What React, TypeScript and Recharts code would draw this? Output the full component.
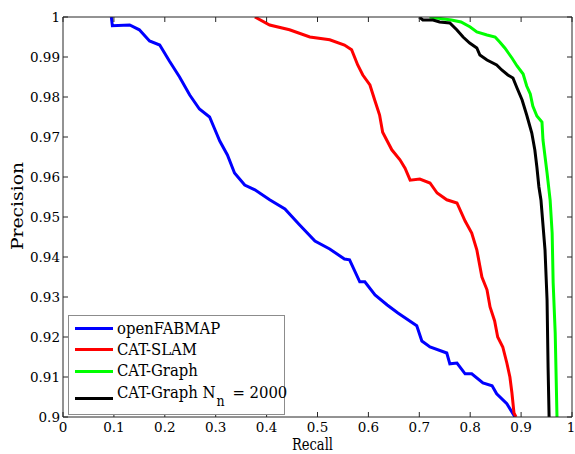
import React from 'react';
import { LineChart, Line, XAxis, YAxis, Legend } from 'recharts';

const openFabmap = [
  { x: 0.095, y: 1.0 }, { x: 0.097, y: 0.9978 }, { x: 0.131, y: 0.998 }, { x: 0.15, y: 0.9968 },
  { x: 0.17, y: 0.994 }, { x: 0.19, y: 0.993 }, { x: 0.209, y: 0.989 }, { x: 0.229, y: 0.985 },
  { x: 0.249, y: 0.9805 }, { x: 0.268, y: 0.977 }, { x: 0.288, y: 0.975 }, { x: 0.298, y: 0.972 },
  { x: 0.308, y: 0.969 }, { x: 0.323, y: 0.9655 }, { x: 0.337, y: 0.961 }, { x: 0.357, y: 0.958 },
  { x: 0.377, y: 0.9568 }, { x: 0.406, y: 0.9543 }, { x: 0.436, y: 0.952 }, { x: 0.465, y: 0.948 },
  { x: 0.495, y: 0.944 }, { x: 0.524, y: 0.942 }, { x: 0.553, y: 0.9395 }, { x: 0.563, y: 0.9393 },
  { x: 0.583, y: 0.9338 }, { x: 0.593, y: 0.9338 }, { x: 0.613, y: 0.9305 }, { x: 0.637, y: 0.928 },
  { x: 0.658, y: 0.926 }, { x: 0.695, y: 0.9228 }, { x: 0.705, y: 0.919 }, { x: 0.721, y: 0.9175 },
  { x: 0.754, y: 0.916 }, { x: 0.76, y: 0.9133 }, { x: 0.774, y: 0.9135 }, { x: 0.79, y: 0.9108 },
  { x: 0.803, y: 0.9108 }, { x: 0.825, y: 0.9085 }, { x: 0.843, y: 0.9078 }, { x: 0.852, y: 0.9058 },
  { x: 0.872, y: 0.9033 }, { x: 0.884, y: 0.9008 }, { x: 0.888, y: 0.9 },
];

const catSlam = [
  { x: 0.377, y: 1.0 }, { x: 0.406, y: 0.998 }, { x: 0.445, y: 0.9968 }, { x: 0.485, y: 0.995 },
  { x: 0.524, y: 0.9943 }, { x: 0.553, y: 0.993 }, { x: 0.567, y: 0.9918 }, { x: 0.579, y: 0.988 },
  { x: 0.589, y: 0.9855 }, { x: 0.603, y: 0.983 }, { x: 0.613, y: 0.979 }, { x: 0.622, y: 0.9755 },
  { x: 0.628, y: 0.9712 }, { x: 0.646, y: 0.9668 }, { x: 0.662, y: 0.9643 }, { x: 0.672, y: 0.9622 },
  { x: 0.682, y: 0.9592 }, { x: 0.701, y: 0.9595 }, { x: 0.721, y: 0.9585 }, { x: 0.735, y: 0.956 },
  { x: 0.754, y: 0.9543 }, { x: 0.774, y: 0.9535 }, { x: 0.79, y: 0.949 }, { x: 0.803, y: 0.946 },
  { x: 0.813, y: 0.9418 }, { x: 0.823, y: 0.935 }, { x: 0.833, y: 0.9318 }, { x: 0.839, y: 0.9275 },
  { x: 0.848, y: 0.924 }, { x: 0.854, y: 0.92 }, { x: 0.864, y: 0.9175 }, { x: 0.872, y: 0.9135 },
  { x: 0.878, y: 0.91 }, { x: 0.882, y: 0.906 }, { x: 0.886, y: 0.901 }, { x: 0.89, y: 0.9 },
];

const catGraph = [
  { x: 0.72, y: 1.0 }, { x: 0.763, y: 0.99925 }, { x: 0.782, y: 0.99875 }, { x: 0.8, y: 0.9975 },
  { x: 0.813, y: 0.99625 }, { x: 0.833, y: 0.9955 }, { x: 0.849, y: 0.995 }, { x: 0.858, y: 0.99375 },
  { x: 0.868, y: 0.99225 }, { x: 0.882, y: 0.98975 }, { x: 0.892, y: 0.98775 }, { x: 0.904, y: 0.98575 },
  { x: 0.911, y: 0.98275 }, { x: 0.918, y: 0.98075 }, { x: 0.923, y: 0.97775 }, { x: 0.931, y: 0.97525 },
  { x: 0.941, y: 0.97375 }, { x: 0.943, y: 0.96925 }, { x: 0.951, y: 0.961 }, { x: 0.957, y: 0.95425 },
  { x: 0.961, y: 0.946 }, { x: 0.963, y: 0.9335 }, { x: 0.967, y: 0.921 }, { x: 0.9705, y: 0.9 },
];

const catGraphN2000 = [
  { x: 0.7, y: 1.0 }, { x: 0.707, y: 0.99925 }, { x: 0.727, y: 0.99925 }, { x: 0.74, y: 0.99875 },
  { x: 0.76, y: 0.9985 }, { x: 0.774, y: 0.99675 }, { x: 0.786, y: 0.995 }, { x: 0.799, y: 0.9935 },
  { x: 0.813, y: 0.99225 }, { x: 0.819, y: 0.9905 }, { x: 0.833, y: 0.98925 }, { x: 0.852, y: 0.988 },
  { x: 0.862, y: 0.98675 }, { x: 0.874, y: 0.9855 }, { x: 0.884, y: 0.98475 }, { x: 0.892, y: 0.98225 },
  { x: 0.902, y: 0.97925 }, { x: 0.911, y: 0.9755 }, { x: 0.921, y: 0.971 }, { x: 0.927, y: 0.96675 },
  { x: 0.931, y: 0.9625 }, { x: 0.935, y: 0.9575 }, { x: 0.939, y: 0.95425 }, { x: 0.947, y: 0.9417 },
  { x: 0.951, y: 0.92925 }, { x: 0.953, y: 0.9125 }, { x: 0.955, y: 0.9 },
];

const xTicks = [0, 0.1, 0.2, 0.3, 0.4, 0.5, 0.6, 0.7, 0.8, 0.9, 1];
const yTicks = [0.9, 0.91, 0.92, 0.93, 0.94, 0.95, 0.96, 0.97, 0.98, 0.99, 1];

const series = [
  { name: 'openFABMAP', color: '#0000ff', data: openFabmap },
  { name: 'CAT-SLAM', color: '#ff0000', data: catSlam },
  { name: 'CAT-Graph', color: '#00ff00', data: catGraph },
  { name: 'CAT-Graph N_n = 2000', color: '#000000', data: catGraphN2000 },
];

const LEGEND_FONT = "'DejaVu Serif Condensed', 'DejaVu Serif', serif";
const SVG_FONT = 'DejaVu Serif';
const AXIS = '#262626';

const fmt = (v: number) => String(Number(v.toFixed(2)));

const renderLegend = () => (
  <div
    style={{
      width: 215,
      height: 96,
      border: '1px solid #8c8c8c',
      background: '#fff',
      fontFamily: LEGEND_FONT,
      fontStretch: 'condensed',
      fontSize: 16.5,
      color: '#000',
      paddingTop: 2,
      boxSizing: 'content-box',
    }}
  >
    {series.map((s) => {
      const parts = s.name.split('N_n');
      const sub = parts.length > 1;
      return (
        <div key={s.name} style={{ display: 'flex', alignItems: 'center', height: 21.3, lineHeight: '16px' }}>
          <div style={{ width: 38, height: 3, background: s.color, marginLeft: 6, marginRight: 4, marginTop: sub ? 11 : 0, flex: 'none' }} />
          <span style={{ whiteSpace: 'nowrap' }}>
            {sub ? (
              <>
                {parts[0]}N
                <span style={{ fontSize: 14, position: 'relative', top: 8, margin: '0 3px 0 1px' }}>n</span>
                {parts[1]}
              </>
            ) : (
              s.name
            )}
          </span>
        </div>
      );
    })}
  </div>
);

const RecallLabel = (p: any) => {
  const vb = p.viewBox || {};
  return (
    <text
      x={vb.x + vb.width / 2 - 5}
      y={vb.y + vb.height - 4}
      textAnchor="middle"
      fill="#000"
      fontFamily={SVG_FONT}
      fontSize={16}
      textLength={41}
      lengthAdjust="spacingAndGlyphs"
    >
      Recall
    </text>
  );
};

const PrecisionLabel = (p: any) => {
  const vb = p.viewBox || {};
  const cx = vb.x + 23;
  const cy = vb.y + vb.height / 2 - 11;
  return (
    <text
      x={cx}
      y={cy}
      transform={`rotate(-90, ${cx}, ${cy})`}
      textAnchor="middle"
      fill="#000"
      fontFamily={SVG_FONT}
      fontSize={17}
      textLength={88}
      lengthAdjust="spacingAndGlyphs"
    >
      Precision
    </text>
  );
};

const XTick = (p: any) => (
  <text x={p.x} y={p.y} dy="0.71em" textAnchor="middle" fill="#000" fontFamily={SVG_FONT} fontSize={13.5}>
    {fmt(p.payload.value)}
  </text>
);

const YTick = (p: any) => (
  <text x={p.x} y={p.y} dy="0.355em" textAnchor="end" fill="#000" fontFamily={SVG_FONT} fontSize={13.5}>
    {fmt(p.payload.value)}
  </text>
);

export default function App() {
  return (
    <div style={{ position: 'absolute', left: 0, top: 0, width: 575, height: 454, background: '#fff', fontFamily: SVG_FONT }}>
      <LineChart width={575} height={454} margin={{ top: 0, right: 0, bottom: 0, left: 0 }} style={{ fontFamily: SVG_FONT }}>
        <XAxis
          xAxisId="bottom"
          dataKey="x"
          type="number"
          domain={[0, 1]}
          ticks={xTicks}
          height={37}
          tickSize={-5}
          tickMargin={10}
          stroke={AXIS}
          tick={XTick}
          label={{ content: RecallLabel }}
          allowDataOverflow
        />
        <XAxis
          xAxisId="top"
          orientation="top"
          dataKey="x"
          type="number"
          domain={[0, 1]}
          ticks={xTicks}
          tickFormatter={() => ''}
          height={17}
          tickSize={-5}
          stroke={AXIS}
          allowDataOverflow
        />
        <YAxis
          yAxisId="left"
          type="number"
          domain={[0.9, 1]}
          ticks={yTicks}
          width={63}
          tickSize={-5}
          tickMargin={8}
          stroke={AXIS}
          tick={YTick}
          label={{ content: PrecisionLabel }}
          allowDataOverflow
        />
        <YAxis
          yAxisId="right"
          orientation="right"
          type="number"
          domain={[0.9, 1]}
          ticks={yTicks}
          tickFormatter={() => ''}
          width={3}
          tickSize={-5}
          stroke={AXIS}
          allowDataOverflow
        />
        {series.map((s) => (
          <Line
            key={s.name}
            xAxisId="bottom"
            yAxisId="left"
            data={s.data}
            dataKey="y"
            name={s.name}
            stroke={s.color}
            strokeWidth={3}
            dot={false}
            activeDot={false}
            isAnimationActive={false}
            type="linear"
          />
        ))}
        <Legend
          layout="vertical"
          align="center"
          verticalAlign="middle"
          content={renderLegend}
          wrapperStyle={{ position: 'absolute', left: 68, top: 315, width: 217, height: 98 }}
        />
      </LineChart>
    </div>
  );
}
